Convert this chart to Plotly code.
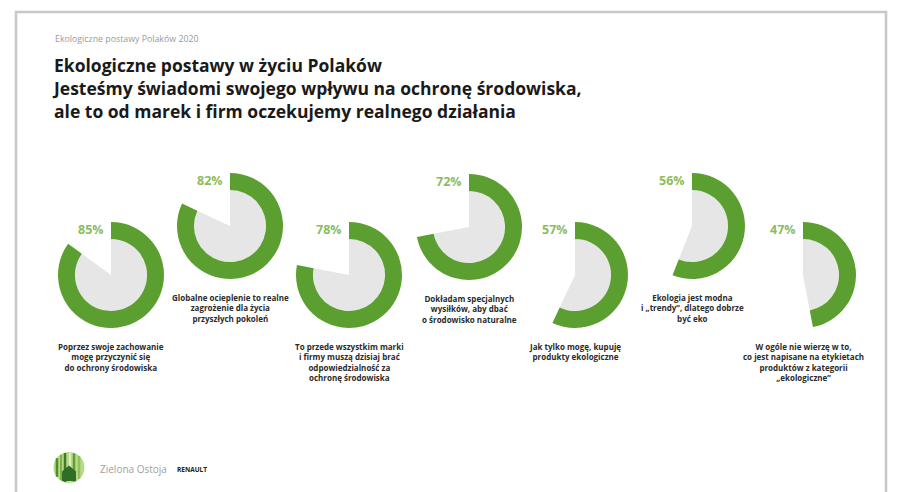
import math
import plotly.graph_objects as go

# ---- data ----
percents = [85, 82, 78, 72, 57, 56, 47]
pct_labels = ["85%", "82%", "78%", "72%", "57%", "56%", "47%"]
descriptions = [
    "Poprzez swoje zachowanie<br>mogę przyczynić się<br>do ochrony środowiska",
    "Globalne ocieplenie to realne<br>zagrożenie dla życia<br>przyszłych pokoleń",
    "To przede wszystkim marki<br>i firmy muszą dzisiaj brać<br>odpowiedzialność za<br>ochronę środowiska",
    "Dokładam specjalnych<br>wysiłków, aby dbać<br>o środowisko naturalne",
    "Jak tylko mogę, kupuję<br>produkty ekologiczne",
    "Ekologia jest modna<br>i „trendy”, dlatego dobrze<br>być eko",
    "W ogóle nie wierzę w to,<br>co jest napisane na etykietach<br>produktów z kategorii<br>„ekologiczne”",
]
kicker = "Ekologiczne postawy Polaków 2020"
title_lines = [
    "Ekologiczne postawy w życiu Polaków",
    "Jesteśmy świadomi swojego wpływu na ochronę środowiska,",
    "ale to od marek i firm oczekujemy realnego działania",
]

# ---- layout constants ----
W, H = 899, 492
centers_x = [111, 230, 349, 469, 575, 692, 803]
centers_y = [275, 226, 275, 227, 275, 226, 275]
R = 53
HOLE = 0.68
GREEN = "#5c9f31"
LABEL_GREEN = "#8cbc5c"
GRAY_FILL = "#e6e6e6"
TEXT_DARK = "#2b2b2b"

fig = go.Figure()

for i, p in enumerate(percents):
    cx, cy = centers_x[i], centers_y[i]
    dom_x = [(cx - R) / W, (cx + R) / W]
    dom_y = [1 - (cy + R) / H, 1 - (cy - R) / H]
    ri = R * HOLE
    dom_xi = [(cx - ri) / W, (cx + ri) / W]
    dom_yi = [1 - (cy + ri) / H, 1 - (cy - ri) / H]
    # inner gray wedge
    fig.add_trace(go.Pie(
        values=[p, 100 - p], sort=False, direction="clockwise", rotation=0,
        marker=dict(colors=[GRAY_FILL, "rgba(0,0,0,0)"], line=dict(width=0)),
        textinfo="none", hoverinfo="skip", showlegend=False,
        domain=dict(x=dom_xi, y=dom_yi),
    ))
    # outer green ring
    fig.add_trace(go.Pie(
        values=[p, 100 - p], sort=False, direction="clockwise", rotation=0,
        hole=HOLE,
        marker=dict(colors=[GREEN, "rgba(0,0,0,0)"], line=dict(width=0)),
        textinfo="none", hoverinfo="skip", showlegend=False,
        domain=dict(x=dom_x, y=dom_y),
    ))

annotations = []
# percentage labels
for i, lab in enumerate(pct_labels):
    annotations.append(dict(
        x=centers_x[i] - 5, y=centers_y[i] - R + 7, xref="x", yref="y",
        text=lab, showarrow=False, xanchor="right", yanchor="middle",
        font=dict(family="Open Sans", size=12.5, color=LABEL_GREEN, weight="bold"),
    ))
# descriptions
for i, d in enumerate(descriptions):
    annotations.append(dict(
        x=centers_x[i], y=centers_y[i] + R + 11, xref="x", yref="y",
        text=d, showarrow=False, xanchor="center", yanchor="top", align="center",
        font=dict(family="Open Sans", size=8, color=TEXT_DARK, weight="bold"),
    ))
# kicker
annotations.append(dict(
    x=53, y=39, xref="x", yref="y", text=kicker, showarrow=False,
    xanchor="left", yanchor="middle",
    font=dict(family="Open Sans", size=8.8, color="#9a9a9a"),
))
# title (one block, lines aligned left)
annotations.append(dict(
    x=50, y=51, xref="x", yref="y", text="<br>".join(title_lines), showarrow=False,
    xanchor="left", yanchor="top", align="left",
    font=dict(family="Open Sans", size=17.5, color="#1a1a1a", weight="bold"),
))
# footer text
annotations.append(dict(
    x=98, y=469, xref="x", yref="y", text="Zielona Ostoja", showarrow=False,
    xanchor="left", yanchor="middle",
    font=dict(family="Open Sans", size=10, color="#a0a0a0"),
))
annotations.append(dict(
    x=175, y=469, xref="x", yref="y", text="RENAULT", showarrow=False,
    xanchor="left", yanchor="middle",
    font=dict(family="Open Sans", size=6.5, color="#222222", weight="bold"),
))

shapes = []
# page frame
shapes.append(dict(type="rect", xref="x", yref="y", x0=16, x1=886, y0=12, y1=500,
                   line=dict(color="#c8c8c8", width=2.5), fillcolor="rgba(0,0,0,0)", layer="below"))
# logo
lcx, lcy, lr = 69, 467.5, 15.5
shapes.append(dict(type="circle", xref="x", yref="y", x0=lcx - lr, x1=lcx + lr,
                   y0=lcy - lr, y1=lcy + lr, fillcolor="#b9d98a", line=dict(width=0)))
stripes = [(-12, 2.5, "#4f8f2a"), (-8, 2.0, "#7cb342"), (-4, 2.5, "#3d7a22"),
           (1, 1.5, "#e8f2d5"), (5, 2.5, "#5c9f31"), (10, 2.5, "#8fc05a")]
for dx, w, col in stripes:
    x = lcx + dx
    half = math.sqrt(max(lr ** 2 - dx ** 2, 0)) - 0.5
    shapes.append(dict(type="rect", xref="x", yref="y", x0=x - w / 2, x1=x + w / 2,
                       y0=lcy - half, y1=lcy + half, fillcolor=col, line=dict(width=0)))
house = (f"M {lcx-7} {lcy+13.5} L {lcx-7} {lcy+4} L {lcx} {lcy-2} "
         f"L {lcx+7} {lcy+4} L {lcx+7} {lcy+13.5} Z")
shapes.append(dict(type="path", xref="x", yref="y", path=house,
                   fillcolor="#2f6e27", line=dict(width=0)))

fig.update_layout(
    width=W, height=H,
    margin=dict(l=0, r=0, t=0, b=0),
    paper_bgcolor="white", plot_bgcolor="white",
    xaxis=dict(range=[0, W], visible=False, fixedrange=True),
    yaxis=dict(range=[H, 0], visible=False, fixedrange=True),
    annotations=annotations, shapes=shapes,
    showlegend=False,
)

fig.write_html("out.html")
